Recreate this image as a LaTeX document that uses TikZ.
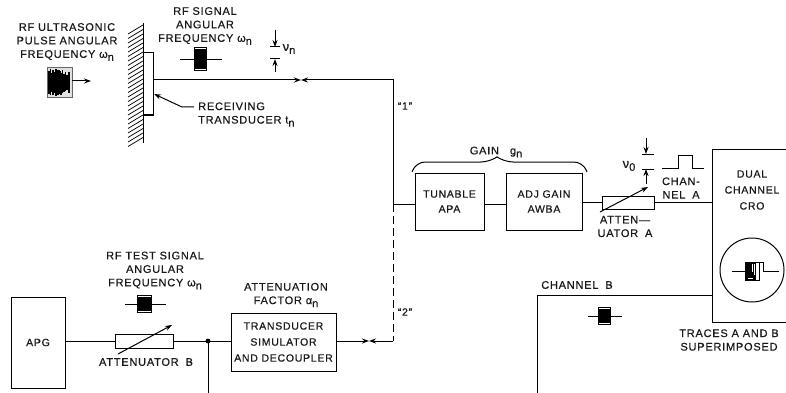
\documentclass[tikz,border=0pt]{standalone}
\usepackage{fontspec}
\setmainfont[LetterSpace=7,FakeBold=0.5]{Liberation Sans}
\usetikzlibrary{arrows.meta}
\newcommand\lowr[1]{\raisebox{-3pt}{\fontsize{11}{11}\selectfont #1}}
\newcommand\pulseicon[5]{% x0 y0 x1 y1 lines
  \fill[black] (#1,#2) rectangle (#3,#4);
  \draw[white,line width=.5pt] (#1+1,#2+1.5) -- (#3-1,#2+1.5);
  \draw[white,line width=.5pt] (#1+1,#4-1.5) -- (#3-1,#4-1.5);
}
\tikzset{
 lbl/.style={font=\fontsize{11}{13.5}\selectfont,inner sep=0pt,align=center,text=black!90},
 lblleft/.style={lbl,align=left,anchor=west},
 boxn/.style={draw,line width=1pt,inner sep=0pt,font=\fontsize{10.5}{15}\selectfont,align=center,text=black!90},
 wire/.style={line width=1pt},
 tip/.style={-{Stealth[length=7pt,width=5pt]}},
}
\begin{document}
\begin{tikzpicture}[x=1pt,y=-1pt]
\useasboundingbox (0,0) rectangle (786,393);
% wall and transducer
\draw[wire] (143,23) -- (143,143);
\foreach \y in {25,29.5,...,140} \draw[line width=.7pt] (143,\y) -- (128,\y+9);
\node[boxn,minimum width=10pt,minimum height=62pt] (rt) at (148.5,84) {};
% boxes
\node[boxn,minimum width=69pt,minimum height=57pt] (tun) at (449.5,201.5) {TUNABLE\\APA};
\node[boxn,minimum width=76pt,minimum height=57pt] (adj) at (544,201.5) {ADJ GAIN\\AWBA};
\node[boxn,minimum width=52pt,minimum height=13pt] (atta) at (628,202.5) {};
\node[boxn,minimum width=54pt,minimum height=91pt] (apg) at (38,342.5) {APG};
\node[boxn,minimum width=58pt,minimum height=14pt] (attb) at (144,341) {};
\node[boxn,minimum width=105pt,minimum height=58pt,font=\fontsize{10.5}{16}\selectfont] (sim) at (283.5,342) {TRANSDUCER\\SIMULATOR\\AND DECOUPLER};
% CRO open box
\coordinate (crotl) at (712,149);
\coordinate (crotr) at (786,149);
\coordinate (crobl) at (712,322);
\coordinate (crobr) at (786,322);
\draw[wire] (crotr) -- (crotl) -- (crobl) -- (crobr);
\node[draw,circle,line width=1pt,minimum size=64pt,inner sep=0pt] (scr) at (752,270) {};
% junctions
\coordinate (jr) at (393,204);
\coordinate (top) at (393,80);
\coordinate (low) at (393,341);
\coordinate (ma) at (301,80);
\coordinate (mb) at (301,80);
\coordinate (mc) at (369,341);
\coordinate (md) at (369,341);
\coordinate (dot) at (208,341);
\coordinate (dotd) at (208,393);
\coordinate (chbl) at (537,295);
\coordinate (chbb) at (537,393);
% connectors
\draw[wire,tip] (rt.east |- ma) -- (ma);
\draw[wire,tip] (jr) -- (top) -- (mb);
\draw[wire] (jr) -- (jr -| tun.west);
\draw[wire] (tun.east |- jr) -- (adj.west |- jr);
\draw[wire] (adj.east |- atta.west) -- (atta.west);
\draw[wire] (atta.east) -- (atta.east -| crotl);
\draw[wire] (apg.east |- dot) -- (attb.west);
\draw[wire] (attb.east) -- (sim.west |- dot);
\draw[wire] (dot) -- (dotd);
\fill (dot) circle (2.4pt);
\draw[wire,tip] (sim.east |- mc) -- (mc);
\draw[wire,tip] (low) -- (md);
\draw[wire,dash pattern=on 8pt off 4pt] (jr) -- (low);
\draw[wire] (chbb) -- (chbl) -- (chbl -| crotl);
% attenuator arrows
\coordinate (aa1) at (600,212);
\coordinate (aa2) at (648,187);
\draw[wire,tip] (aa1) -- (aa2);
\coordinate (ab1) at (118,354);
\coordinate (ab2) at (172,325);
\draw[wire,tip] (ab1) -- (ab2);
% receiving transducer pointer
\coordinate (rp) at (154,94);
\draw[wire,tip] (194,107) -- (182,107) -- (rp);
% pulses
\fill[black!12] (47,67) rectangle (72,97);
\draw[line width=.8pt,black!60] (47,67) rectangle (72,97);
\foreach \x/\a/\b in {49/71/94,50.5/69/95,52/73/92,53/70/95,54.5/72/93,56/69/96,57/70/93,58/74/95,59/70/92,60/71/94,61/73/95,62.5/70/93,64/74/92,65.5/72/91,67/75/90,69/72/93}
  \draw[line width=1.1pt] (\x,\a) -- (\x,\b);
\draw[wire,tip] (72,81) -- (91,81);
\draw[wire] (180,60) -- (222,60);
\pulseicon{194}{47}{207}{71}{}
\draw[wire] (125,304) -- (166,304);
\pulseicon{137}{295}{152}{313}{}
\draw[wire] (588,316) -- (622,316);
\pulseicon{598}{307}{611}{325}{}
% trace in screen
\draw[wire] (732,271) -- (745,271);
\draw[wire] (745,262) -- (763,262) -- (763,271) -- (779,271);
\fill (745,262) rectangle (756,280);
\draw[line width=.7pt] (745,280) rectangle (759,262);
\foreach \x/\b in {752/272,754.5/275,757/270} \draw[white,line width=.6pt] (\x,264) -- (\x,\b);
\draw[white,line width=.6pt] (748,278) -- (753,278);
% channel A pulse
\draw[wire] (662,168) -- (678,168) -- (678,155) -- (692,155) -- (692,168) -- (704,168);
% amplitude marks
\draw[wire] (270,47) -- (280,47);
\draw[wire] (270,59) -- (280,59);
\draw[wire,tip] (275,30) -- (275,47);
\draw[wire,tip] (275,72) -- (275,59);
\draw[wire] (642,154) -- (654,154);
\draw[wire] (642,169) -- (654,169);
\draw[wire,tip] (646,138) -- (646,154);
\draw[wire,tip] (646,184) -- (646,169);
% brace
\draw[wire,rounded corners=9pt] (412,172) -- (416,162) -- (490,162) -- (497,157);
\draw[wire,rounded corners=9pt] (497,157) -- (504,162) -- (583,162) -- (587,172);
% labels
\node[lbl] (t1) at (67,42) {RF ULTRASONIC\\PULSE ANGULAR\\FREQUENCY ω\lowr{n}};
\node[lbl] (t2) at (205,26) {RF SIGNAL\\ANGULAR\\FREQUENCY ω\lowr{n}};
\node[lbl,font=\fontsize{13}{13}\selectfont] (t3) at (289,49) {ν\lowr{n}};
\node[lblleft] (t4) at (198,114.5) {RECEIVING\\TRANSDUCER t\lowr{n}};
\node[lbl,font=\fontsize{10.5}{10}\selectfont] (t5) at (405,106) {“1”};
\node[lbl,font=\fontsize{10.5}{10}\selectfont] (t6) at (405,312) {“2”};
\node[lbl,font=\fontsize{11}{12}\selectfont] (t7) at (496,152) {GAIN\quad g\lowr{n}};
\node[lbl,font=\fontsize{13}{13}\selectfont] (t8) at (629,166) {ν\lowr{0}};
\node[lbl] (t9) at (681,188) {CHAN-\\NEL\; A};
\node[lbl] (t10) at (625,226.5) {ATTEN—\\UATOR\; A};
\node[lbl,font=\fontsize{10.5}{16}\selectfont] (t11) at (752,190) {DUAL\\CHANNEL\\CRO};
\node[lbl] (t12) at (577,285) {CHANNEL\; B};
\node[lbl] (t13) at (729,340) {TRACES A AND B\\SUPERIMPOSED};
\node[lbl] (t14) at (155,270.5) {RF TEST SIGNAL\\ANGULAR\\FREQUENCY ω\lowr{n}};
\node[lbl] (t15) at (146,362) {ATTENUATOR\; B};
\node[lbl] (t16) at (286,295) {ATTENUATION\\FACTOR α\lowr{n}};
\end{tikzpicture}
\end{document}
